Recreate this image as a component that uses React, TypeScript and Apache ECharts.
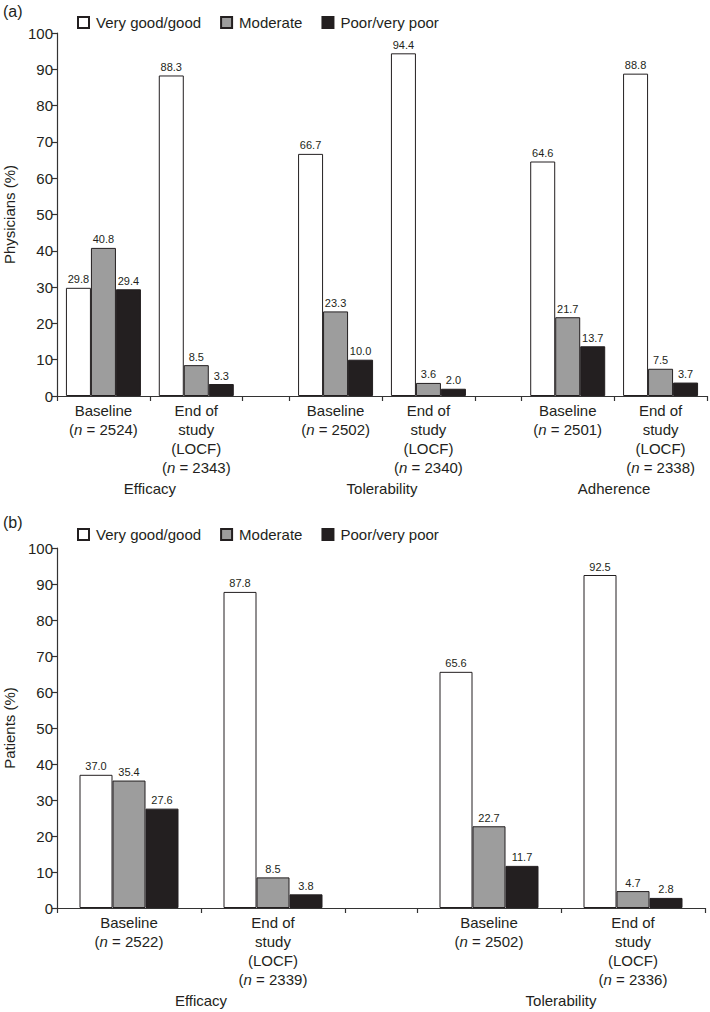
import React, { useEffect, useRef } from "react";
import * as echarts from "echarts";

const FONT = '"Liberation Sans", Arial, Helvetica, sans-serif';
const INK = "#231f20";

const seriesNames = ["Very good/good", "Moderate", "Poor/very poor"];
const seriesColors = ["#ffffff", "#9d9d9d", "#231f20"];

// Panel (a) physicians
const groupsA = ["Efficacy", "Tolerability", "Adherence"];
const nA = [2524, 2343, 2502, 2340, 2501, 2338];
const veryGoodA = [29.8, 88.3, 66.7, 94.4, 64.6, 88.8];
const moderateA = [40.8, 8.5, 23.3, 3.6, 21.7, 7.5];
const poorA = [29.4, 3.3, 10.0, 2.0, 13.7, 3.7];

// Panel (b) patients
const groupsB = ["Efficacy", "Tolerability"];
const nB = [2522, 2339, 2502, 2336];
const veryGoodB = [37.0, 87.8, 65.6, 92.5];
const moderateB = [35.4, 8.5, 22.7, 4.7];
const poorB = [27.6, 3.8, 11.7, 2.8];

const timeLabels = ["Baseline", "End of\nstudy\n(LOCF)"];
const yTicks = { min: 0, max: 100, interval: 10 };

function layout(groups: string[]) {
  // Each group spans 4 half-slot units plus a 1-unit gap
  const count = groups.length * 5; // category points 0..count-1
  const cats = Array.from({ length: count }, (_, i) => String(i));
  const slotPos: number[] = [];
  const tickPos = new Set<number>();
  const groupPos: Record<number, string> = {};
  groups.forEach((g, gi) => {
    slotPos.push(gi * 5 + 1, gi * 5 + 3);
    tickPos.add(gi * 5);
    tickPos.add(gi * 5 + 2);
    tickPos.add(gi * 5 + 4);
    groupPos[gi * 5 + 2] = g;
  });
  return { cats, slotPos, tickPos, groupPos };
}

function panel(
  idx: number,
  groups: string[],
  ns: number[],
  values: number[][],
  yName: string,
  barWidth: number,
  catOffset: number
) {
  const { cats, slotPos, tickPos, groupPos } = layout(groups);
  const labelMap: Record<number, string> = {};
  slotPos.forEach((p, i) => {
    labelMap[p] = `${timeLabels[i % 2]}\n({i|n} = ${ns[i]})`;
  });
  const xAxes = [
    {
      type: "category",
      gridIndex: idx,
      data: cats,
      boundaryGap: false,
      axisLine: { show: true, lineStyle: { color: "#333", width: 1.2 } },
      axisTick: {
        show: true,
        length: 5,
        lineStyle: { color: "#333", width: 1.2 },
        interval: (i: number) => tickPos.has(i),
      },
      axisLabel: {
        interval: (i: number) => labelMap[i] !== undefined,
        formatter: (_v: string, i: number) => labelMap[i] || "",
        fontFamily: FONT,
        fontSize: 15,
        color: INK,
        lineHeight: 19,
        margin: 5,
        rich: {
          i: { fontStyle: "italic", fontFamily: FONT, fontSize: 15, color: INK, lineHeight: 19 },
        },
      },
      splitLine: { show: false },
    },
    {
      type: "category",
      gridIndex: idx,
      data: cats,
      boundaryGap: false,
      position: "bottom",
      offset: catOffset,
      axisLine: { show: false },
      axisTick: { show: false },
      axisLabel: {
        interval: (i: number) => groupPos[i] !== undefined,
        formatter: (_v: string, i: number) => groupPos[i] || "",
        fontFamily: FONT,
        fontSize: 15,
        color: INK,
        margin: 6,
      },
      splitLine: { show: false },
    },
  ];
  const yAxis = {
    type: "value",
    gridIndex: idx,
    min: yTicks.min,
    max: yTicks.max,
    interval: yTicks.interval,
    name: yName,
    nameLocation: "middle",
    nameGap: 39,
    nameTextStyle: { fontFamily: FONT, fontSize: 15, color: INK },
    axisLine: { show: true, lineStyle: { color: "#333", width: 1.2 } },
    axisTick: { show: true, length: 5, lineStyle: { color: "#333", width: 1.2 } },
    axisLabel: { fontFamily: FONT, fontSize: 15, color: INK, margin: 4 },
    splitLine: { show: false },
  };
  const series = values.map((vals, si) => {
    const data: (number | null)[] = cats.map(() => null);
    slotPos.forEach((p, i) => {
      data[p] = vals[i];
    });
    return {
      type: "bar",
      name: seriesNames[si],
      xAxisIndex: idx * 2,
      yAxisIndex: idx,
      data,
      barWidth,
      barGap: "0%",
      itemStyle: { color: seriesColors[si], borderColor: INK, borderWidth: 1 },
      label: {
        show: true,
        position: "top",
        distance: 3,
        fontFamily: FONT,
        fontSize: 11,
        color: INK,
        formatter: (p: any) => (p.value == null ? "" : Number(p.value).toFixed(1)),
      },
    };
  });
  return { xAxes, yAxis, series };
}

export default function App() {
  const ref = useRef<HTMLDivElement>(null);
  useEffect(() => {
    if (!ref.current) return;
    const chart = echarts.init(ref.current, undefined, { renderer: "svg" });
    const a = panel(0, groupsA, nA, [veryGoodA, moderateA, poorA], "Physicians (%)", 25, 79);
    const b = panel(1, groupsB, nB, [veryGoodB, moderateB, poorB], "Patients (%)", 33, 79);
    const legendBase = {
      data: seriesNames,
      icon: "rect",
      itemWidth: 11,
      itemHeight: 11,
      itemGap: 19,
      padding: 0,
      selectedMode: false,
      textStyle: { fontFamily: FONT, fontSize: 15, color: INK, padding: [0, 0, 0, 2] },
    };
    chart.setOption({
      animation: false,
      backgroundColor: "#ffffff",
      grid: [
        { left: 57, right: 3, top: 33, height: 363, containLabel: false, outerBoundsMode: "none" },
        { left: 57, right: 5, top: 548, height: 360, containLabel: false, outerBoundsMode: "none" },
      ],
      legend: [
        { ...legendBase, left: 77, top: 15 },
        { ...legendBase, left: 77, top: 527 },
      ],
      graphic: [
        { type: "text", left: 3, top: 3, style: { text: "(a)", fontFamily: FONT, fontSize: 16, fill: INK } },
        { type: "text", left: 3, top: 514, style: { text: "(b)", fontFamily: FONT, fontSize: 16, fill: INK } },
      ],
      xAxis: [...a.xAxes, ...b.xAxes],
      yAxis: [a.yAxis, b.yAxis],
      series: [...a.series, ...b.series],
    });
    return () => chart.dispose();
  }, []);
  return (
    <div
      ref={ref}
      style={{ position: "fixed", left: 0, top: 0, width: 710, height: 1012, background: "#fff" }}
    />
  );
}
